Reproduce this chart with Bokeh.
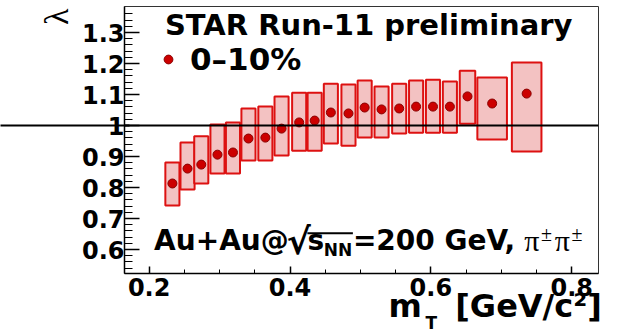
import math
import numpy as np
from bokeh.plotting import figure
from bokeh.models import (ColumnDataSource, FixedTicker, Label, Arrow, Whisker,
                          TeeHead, Legend, LegendItem, Range1d, Span, LinearAxis, Title)
from bokeh.embed import file_html
from bokeh.resources import INLINE

# ---------------- data ----------------
mt = [0.233, 0.2545, 0.274, 0.297, 0.319, 0.341, 0.365, 0.388, 0.413, 0.435,
      0.458, 0.483, 0.506, 0.530, 0.555, 0.579, 0.603, 0.627, 0.652, 0.687, 0.736]
lam = [0.813, 0.861, 0.874, 0.906, 0.913, 0.958, 0.961, 0.990, 1.010, 1.016,
       1.042, 1.039, 1.058, 1.052, 1.055, 1.061, 1.061, 1.061, 1.094, 1.071, 1.103]
stat_err = [0.006, 0.006, 0.006, 0.007, 0.007, 0.008, 0.008, 0.008, 0.009, 0.010,
            0.012, 0.012, 0.013, 0.013, 0.014, 0.014, 0.014, 0.015, 0.025, 0.022, 0.026]
sys_lo = [0.742, 0.794, 0.813, 0.845, 0.845, 0.887, 0.887, 0.903, 0.919, 0.919,
          0.942, 0.935, 0.961, 0.961, 0.974, 0.977, 0.977, 0.977, 1.006, 0.955, 0.916]
sys_hi = [0.881, 0.945, 0.965, 1.003, 1.010, 1.055, 1.061, 1.094, 1.106, 1.106,
          1.135, 1.132, 1.145, 1.126, 1.135, 1.145, 1.148, 1.142, 1.177, 1.155, 1.203]
sys_w = [0.020, 0.020, 0.020, 0.020, 0.020, 0.020, 0.020, 0.020, 0.020, 0.020,
         0.020, 0.020, 0.020, 0.020, 0.020, 0.020, 0.020, 0.020, 0.022, 0.042, 0.042]

x_ticks = [0.2, 0.4, 0.6, 0.8]
x_minor = [0.25, 0.3, 0.35, 0.45, 0.5, 0.55, 0.65, 0.7, 0.75]
y_ticks = [0.6, 0.7, 0.8, 0.9, 1.0, 1.1, 1.2, 1.3]
y_tick_labels = ["0.6", "0.7", "0.8", "0.9", "1", "1.1", "1.2", "1.3"]
reference_value = 1.0
series_label = "0\u201310%"
x_title_main = ("m", "[GeV/c\u00b2]")
x_title_sub = "T"
y_title = "\u03bb"
header = "STAR Run-11 preliminary"
system_parts = ("Au+Au@", "\u221a", "s", "NN", "=200 GeV,")
pair_parts = ("\u03c0", "\u00b1")

# ---------------- layout ----------------
W, H = 626, 332
BL, BR, BT, BB = 117, 28, 6, 59
X0, X1 = 0.165, 0.838
Y0, Y1 = 0.5226, 1.384
FW, FH = W - BL - BR, H - BT - BB
NB = "\u00a0"

def dx(px):  # picture pixel -> data x
    return X0 + (px - BL) * (X1 - X0) / FW

def dy(py):  # picture pixel -> data y
    return Y1 - (py - BT) * (Y1 - Y0) / FH

FONT = "DejaVu Sans"
ADV = {' ': 0.348, 'A': 0.774, 'u': 0.712, '+': 0.838, '@': 1.0, 's': 0.596,
       'N': 0.838, '=': 0.838, '0': 0.696, '2': 0.696, 'G': 0.821, 'e': 0.678,
       'V': 0.774, ',': 0.380, 'm': 1.042, 'T': 0.682, '[': 0.457, ']': 0.457,
       '/': 0.365, 'c': 0.593, '\u221a': 0.636, '\u00b2': 0.438, NB: 0.348}

def adv(t, size):
    return sum(ADV.get(c, 0.6) for c in t) * size

p = figure(width=W, height=H, x_range=Range1d(X0, X1), y_range=Range1d(Y0, Y1),
           output_backend="svg", toolbar_location=None, title=None,
           min_border_left=BL, min_border_right=BR, min_border_top=BT,
           min_border_bottom=BB)
p.xgrid.visible = False
p.ygrid.visible = False
p.outline_line_color = "#333333"
p.outline_line_width = 1
p.background_fill_color = "white"
p.border_fill_color = "white"

# ---------------- data marks ----------------
src = ColumnDataSource(dict(
    x=mt, y=lam,
    lo=[a - e for a, e in zip(lam, stat_err)],
    up=[a + e for a, e in zip(lam, stat_err)],
    left=[a - w / 2 for a, w in zip(mt, sys_w)],
    right=[a + w / 2 for a, w in zip(mt, sys_w)],
    bottom=sys_lo, top=sys_hi))

p.quad(left="left", right="right", bottom="bottom", top="top", source=src,
       fill_color="#f3c2c2", line_color="#dd1111", line_width=2)

p.add_layout(Span(location=reference_value, dimension="width",
                  line_color="black", line_width=2))

pts = p.scatter("x", "y", source=src, size=9, fill_color="#cc0000",
                line_color="#8a0000", line_width=1)

wh = Whisker(source=src, base="x", upper="up", lower="lo", line_color="#333333",
             line_width=1.5,
             upper_head=TeeHead(size=5, line_color="#333333", line_width=1.5),
             lower_head=TeeHead(size=5, line_color="#333333", line_width=1.5))
p.add_layout(wh)

# ---------------- axes ----------------
XT = 32
x_visible = x_title_main[0] + NB * 3 + x_title_main[1]
x_right = 598
n_pad = int(round((2 * (x_right - (BL + FW / 2)) - adv(x_visible, XT)) / adv(NB, XT)))
xa = p.xaxis[0]
xa.ticker = FixedTicker(ticks=x_ticks, minor_ticks=x_minor)
xa.major_tick_in, xa.major_tick_out = 7, 0
xa.minor_tick_in, xa.minor_tick_out = 4, 0
xa.axis_line_width = 1.5
xa.major_tick_line_width = 1.5
xa.minor_tick_line_width = 1
xa.major_label_text_font = FONT
xa.major_label_text_font_style = "bold"
xa.major_label_text_font_size = "24px"
xa.major_label_text_color = "black"
xa.major_label_standoff = 4
# the centred axis label is pushed to the right end by leading no-break spaces
xa.axis_label = NB * n_pad + x_visible
xa.axis_label_text_font = FONT
xa.axis_label_text_font_style = "bold"
xa.axis_label_text_font_size = f"{XT}px"
xa.axis_label_text_color = "black"
xa.axis_label_standoff = -12

YT = 34
ya = p.yaxis[0]
y_minor = [round(v, 2) for v in np.arange(0.54, 1.37, 0.02)]
ya.ticker = FixedTicker(ticks=y_ticks, minor_ticks=y_minor)
ya.major_label_overrides = dict(zip(y_ticks, y_tick_labels))
ya.major_tick_in, ya.major_tick_out = 15, 0
ya.minor_tick_in, ya.minor_tick_out = 8, 0
ya.axis_line_width = 1.5
ya.major_tick_line_width = 1.5
ya.minor_tick_line_width = 1
ya.major_label_text_font = FONT
ya.major_label_text_font_style = "bold"
ya.major_label_text_font_size = "24px"
ya.major_label_text_color = "black"
ya.major_label_standoff = 0
y_pad = int(round((2 * (BT + FH / 2 - 7) - 0.55 * YT) / (0.25 * YT)))
ya.axis_label = NB * y_pad + y_title
ya.axis_label_text_font = "Liberation Serif"
ya.axis_label_text_font_style = "normal"
ya.axis_label_text_font_size = f"{YT}px"
ya.axis_label_text_color = "black"
ya.axis_label_standoff = 4

# the y = 1 line continues through the left margin: a one-tick axis
line_axis = LinearAxis(ticker=FixedTicker(ticks=[reference_value], minor_ticks=[]),
                       axis_line_color=None, major_tick_in=95, major_tick_out=34,
                       major_tick_line_color="black", major_tick_line_width=2,
                       major_label_text_font_size="0px", major_label_standoff=0,
                       minor_tick_line_color=None)
line_axis.major_label_overrides = {reference_value: ""}
p.add_layout(line_axis, "left")

# subscript T of the x title
m_left = x_right - adv(x_visible, XT)
p.add_layout(Title(text=x_title_sub, align="left", vertical_align="top",
                   offset=m_left + adv("m", XT) - BL, standoff=-30, text_font=FONT,
                   text_font_style="bold", text_font_size="17px",
                   text_color="black"), "below")

# ---------------- texts inside the frame ----------------
def lab(x, base_py, t, size, font=FONT, style="bold", desc=0.236, **kw):
    # base_py: wanted baseline in picture pixels (label anchored at its box bottom)
    l = Label(x=dx(x), y=dy(base_py + desc * size), text=t, text_font=font,
              text_font_style=style, text_font_size=f"{size}px",
              text_color="black", text_baseline="bottom", **kw)
    p.add_layout(l)
    return l

lab(158, 35, header, 29)

S, s, SR = 28, 17, 36
cx = 147
by = 250
lab(cx, by, system_parts[0], S); cx += adv(system_parts[0], S)
lab(cx, by + 3, system_parts[1], SR); cx += adv(system_parts[1], SR) - 2
bar_start = cx
lab(cx, by, system_parts[2], S); cx += adv(system_parts[2], S)
lab(cx, by + 5, system_parts[3], s); cx += adv(system_parts[3], s) + 1
bar_end = cx
bar_y = by + 3 - 0.56 * SR
p.add_layout(Arrow(x_start=dx(bar_start), y_start=dy(bar_y),
                   x_end=dx(bar_end), y_end=dy(bar_y),
                   start=None, end=None, line_color="black", line_width=2))
lab(cx, by, system_parts[4], S); cx += adv(system_parts[4], S) + 8
for _ in range(2):
    lab(cx, by, pair_parts[0], 30, font="Liberation Serif", style="normal", desc=0.216)
    cx += 17
    lab(cx, by - 10, pair_parts[1], 20, font="Liberation Serif", style="normal", desc=0.216)
    cx += 14

# legend
leg = Legend(items=[LegendItem(label=series_label, renderers=[pts])],
             location="top_left", margin=2, padding=31, glyph_width=22,
             glyph_height=40, label_height=40, label_standoff=11,
             label_text_font=FONT, label_text_font_style="bold",
             label_text_font_size="31px", label_text_color="black",
             border_line_alpha=0, background_fill_alpha=0)
p.add_layout(leg)

open("out.html", "w").write(file_html(p, INLINE))
